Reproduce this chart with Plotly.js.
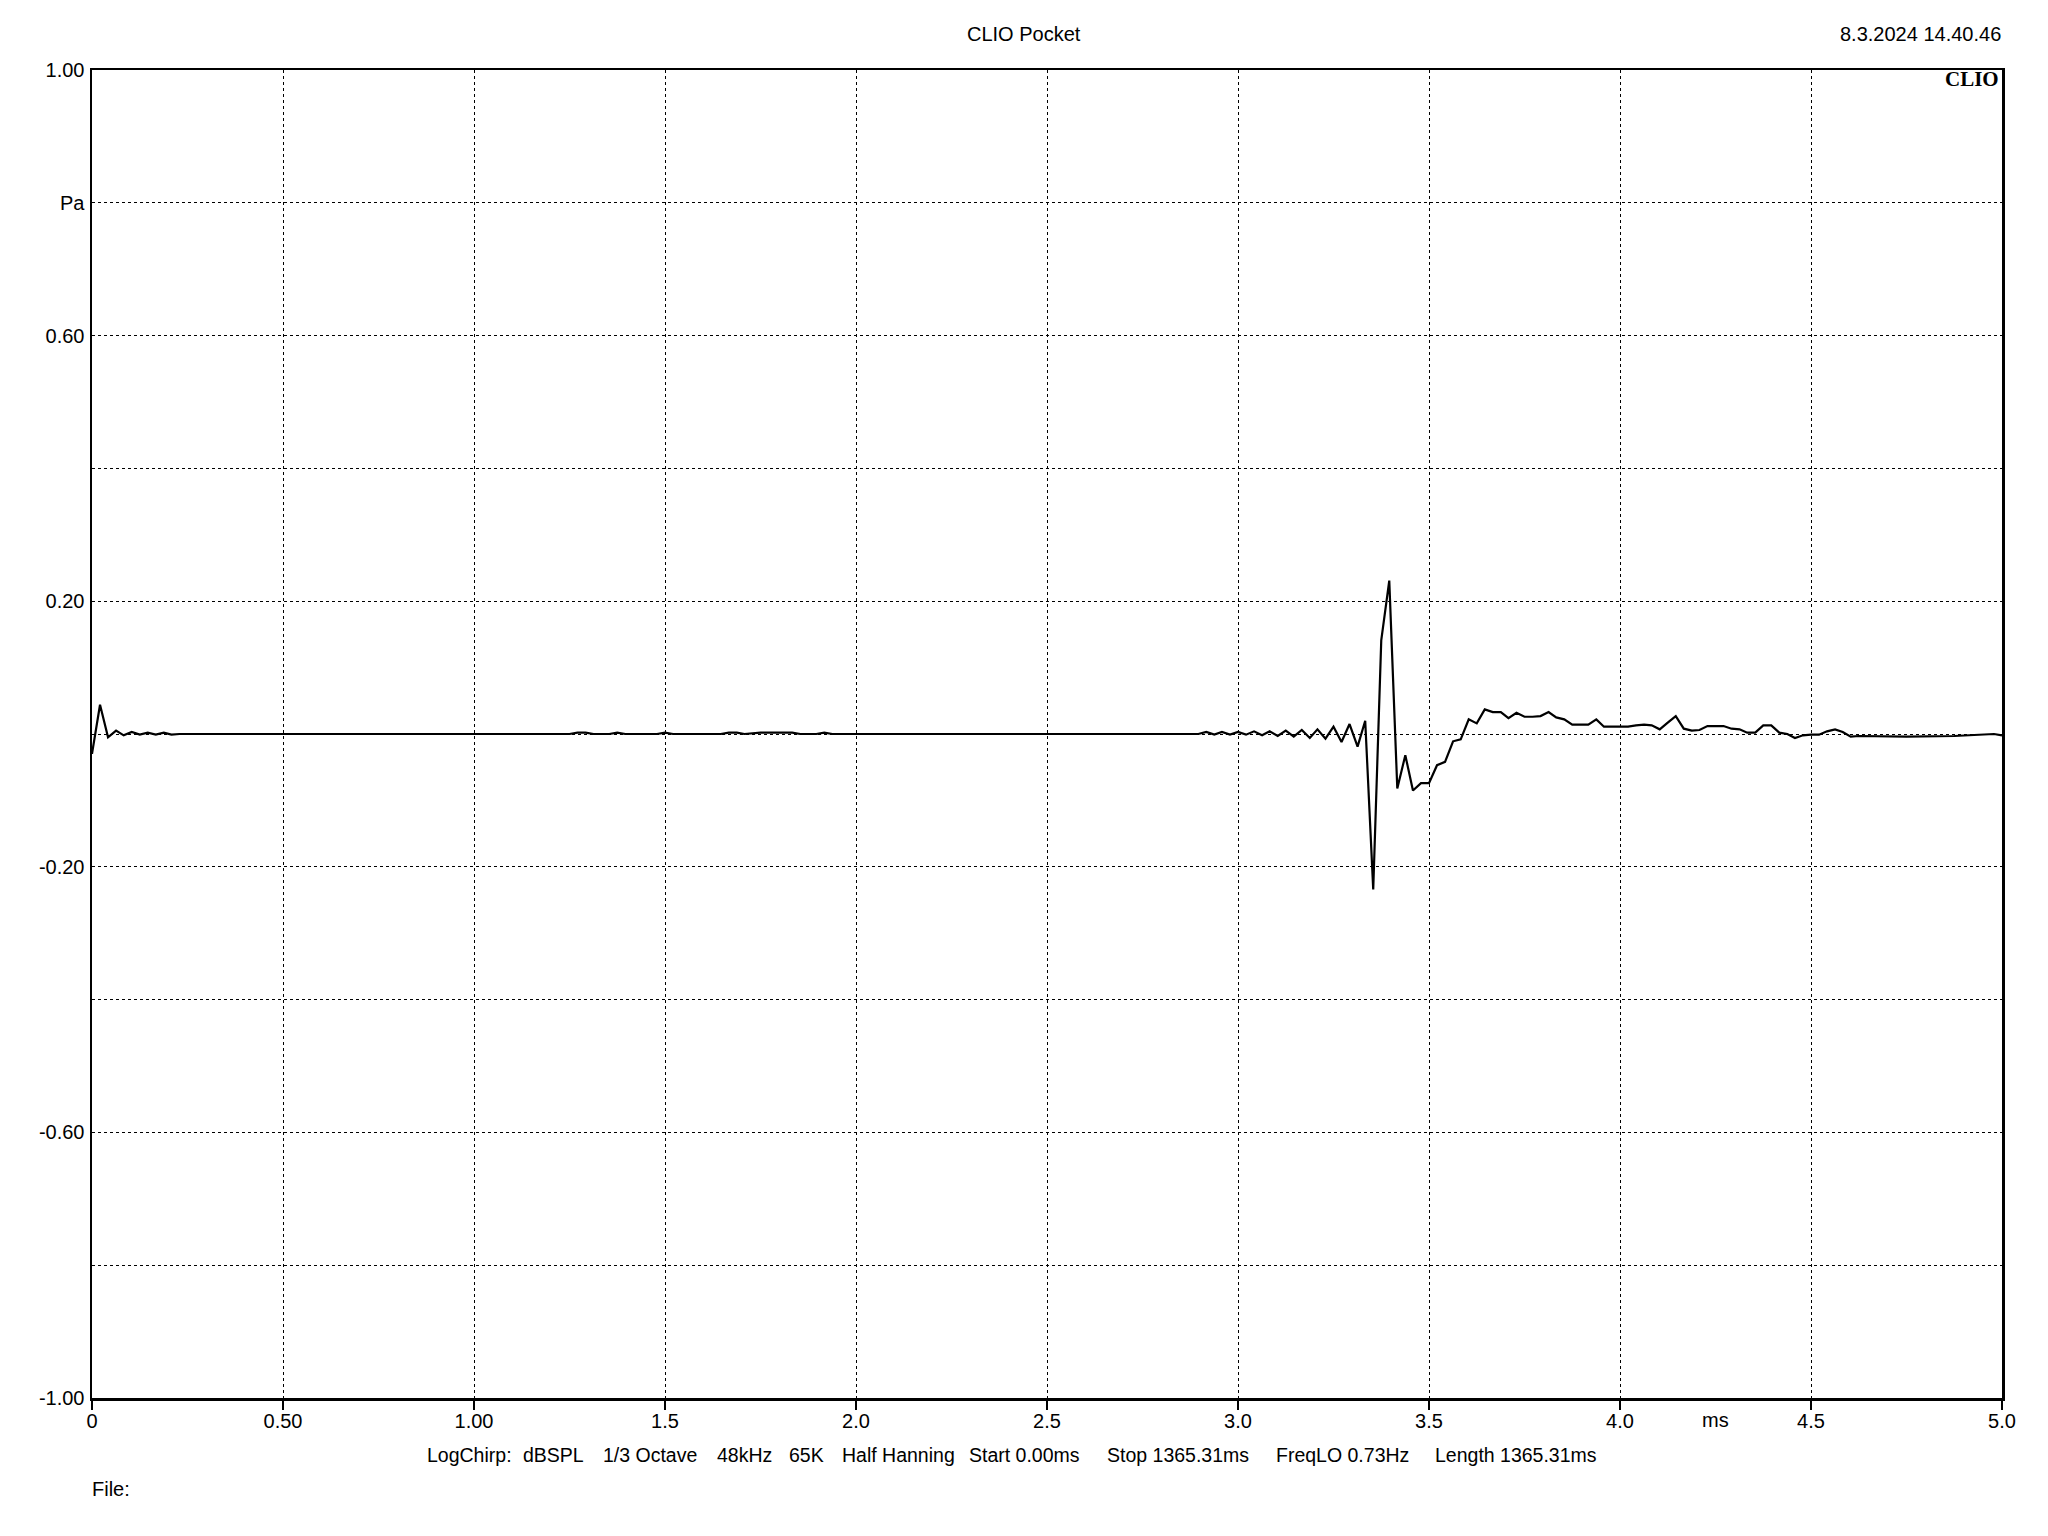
<!DOCTYPE html>
<html>
<head>
<meta charset="utf-8">
<script src="https://cdn.plot.ly/plotly-3.0.1.min.js"></script>
<style>
html,body{margin:0;padding:0;background:#fff;}
#chart{width:2048px;height:1536px;}
</style>
</head>
<body>
<div id="chart"></div>
<script>
// Time (ms) and pressure (Pa)
const timeMs = [
  0, 0.021, 0.042, 0.063, 0.083, 0.104, 0.125, 0.146, 0.167, 0.188, 0.208, 0.229,
  1.250, 1.271, 1.292, 1.313, 1.354, 1.375, 1.396, 1.479, 1.500, 1.521,
  1.646, 1.667, 1.688, 1.708, 1.750, 1.771, 1.792, 1.813, 1.833, 1.854,
  1.896, 1.917, 1.938, 2.896,
  2.917, 2.938, 2.958, 2.979, 3.000, 3.021, 3.042, 3.063, 3.083, 3.104,
  3.125, 3.146, 3.167, 3.188, 3.208, 3.229, 3.250, 3.271, 3.292, 3.313,
  3.333, 3.354, 3.375, 3.396, 3.417, 3.438, 3.458, 3.479, 3.500, 3.521,
  3.542, 3.563, 3.583, 3.604, 3.625, 3.646, 3.667, 3.688, 3.708, 3.729,
  3.750, 3.771, 3.792, 3.813, 3.833, 3.854, 3.875, 3.896, 3.917, 3.938,
  3.958, 3.979, 4.000, 4.021, 4.042, 4.063, 4.083, 4.104, 4.125, 4.146,
  4.167, 4.188, 4.208, 4.229, 4.250, 4.271, 4.292, 4.313, 4.333, 4.354,
  4.375, 4.396, 4.417, 4.438, 4.458, 4.479, 4.500, 4.521, 4.542, 4.563,
  4.583, 4.604, 4.625, 4.750, 4.875, 4.958, 4.979, 5.000
];
const pressurePa = [
  -0.030, 0.044, -0.005, 0.005, -0.002, 0.003, -0.001, 0.002, -0.001, 0.002, -0.001, 0,
  0, 0.002, 0.002, 0, 0, 0.002, 0, 0, 0.002, 0,
  0, 0.002, 0.002, 0, 0.002, 0.002, 0.002, 0.002, 0.002, 0,
  0, 0.002, 0, 0,
  0.003, -0.001, 0.003, -0.001, 0.003, -0.001, 0.004, -0.002, 0.004, -0.003,
  0.005, -0.004, 0.006, -0.006, 0.007, -0.007, 0.011, -0.012, 0.015, -0.019,
  0.020, -0.234, 0.141, 0.231, -0.082, -0.032, -0.085, -0.074, -0.074, -0.047,
  -0.042, -0.011, -0.008, 0.022, 0.016, 0.037, 0.033, 0.033, 0.024, 0.032,
  0.026, 0.026, 0.027, 0.033, 0.025, 0.022, 0.014, 0.014, 0.014, 0.022,
  0.011, 0.011, 0.011, 0.011, 0.013, 0.014, 0.013, 0.007, 0.017, 0.027,
  0.008, 0.005, 0.006, 0.012, 0.012, 0.012, 0.008, 0.007, 0.002, 0.002,
  0.013, 0.013, 0.002, 0.000, -0.006, -0.002, -0.001, -0.001, 0.004, 0.007,
  0.003, -0.004, -0.003, -0.004, -0.003, -0.001, 0.000, -0.002
];

const xTickVals = [0, 0.5, 1, 1.5, 2, 2.5, 3, 3.5, 4, 4.5, 5];
const xTickText = ['0', '0.50', '1.00', '1.5', '2.0', '2.5', '3.0', '3.5', '4.0', '4.5', '5.0'];
const yTickVals = [-1, -0.8, -0.6, -0.4, -0.2, 0, 0.2, 0.4, 0.6, 0.8, 1];
const yTickText = ['-1.00', '', '-0.60', '', '-0.20', '', '0.20', '', '0.60', 'Pa', '1.00'];

const titleText = 'CLIO Pocket';
const dateText = '8.3.2024 14.40.46';
const infoItems = ['LogChirp:', 'dBSPL', '1/3 Octave', '48kHz', '65K', 'Half Hanning',
  'Start 0.00ms', 'Stop 1365.31ms', 'FreqLO 0.73Hz', 'Length 1365.31ms'];
const infoX = [426, 522, 602, 716, 788, 841, 968, 1106, 1275, 1434];

const W = 2048, H = 1536;
const L = 92, R = 2002, T = 70, B = 1398;
const px = x => (x - L) / (R - L);
const py = y => (B - y) / (B - T);
const FONT = 'Liberation Sans, Arial, sans-serif';

const annotations = [
  {text: titleText, x: px(1024), y: py(34), xanchor: 'center', yanchor: 'middle'},
  {text: dateText, x: px(2002), y: py(34), xanchor: 'right', yanchor: 'middle'},
  {text: '<b>CLIO</b>', x: px(2000), y: py(79), xanchor: 'right', yanchor: 'middle',
   font: {family: 'Liberation Serif, Times New Roman, serif', size: 21, color: '#000'}},
  {text: 'ms', x: px(1715), y: py(1420), xanchor: 'center', yanchor: 'middle'},
  {text: 'File:', x: px(91), y: py(1489), xanchor: 'left', yanchor: 'middle'}
];
infoItems.forEach((t, i) => annotations.push({text: t, x: px(infoX[i]), y: py(1455), xanchor: 'left', yanchor: 'middle', font: {family: FONT, size: 19.5, color: '#000'}}));
annotations.forEach(a => {
  a.xref = 'paper'; a.yref = 'paper'; a.showarrow = false;
  if (!a.font) a.font = {family: FONT, size: 20, color: '#000'};
  a.borderpad = 0;
});

const trace = {
  x: timeMs, y: pressurePa, type: 'scatter', mode: 'lines',
  line: {color: '#000', width: 2.2}, hoverinfo: 'skip'
};

const layout = {
  width: W, height: H,
  margin: {l: L, r: W - R, t: T, b: H - B, pad: 0},
  paper_bgcolor: '#fff', plot_bgcolor: '#fff',
  showlegend: false,
  font: {family: FONT, size: 20, color: '#000'},
  xaxis: {
    range: [0, 5], tickmode: 'array', tickvals: xTickVals, ticktext: xTickText,
    showgrid: true, gridcolor: '#000', gridwidth: 1, griddash: '3px,3px',
    zeroline: false, showline: true, mirror: true, linecolor: '#000', linewidth: 2.5,
    ticks: 'outside', ticklen: 9, tickwidth: 1.2, tickcolor: '#000', ticklabelstandoff: -6,
    tickfont: {family: FONT, size: 20, color: '#000'}, fixedrange: true
  },
  yaxis: {
    range: [-1, 1], tickmode: 'array', tickvals: yTickVals, ticktext: yTickText,
    showgrid: true, gridcolor: '#000', gridwidth: 1, griddash: '3px,3px',
    zeroline: false, showline: true, mirror: true, linecolor: '#000', linewidth: 2.5,
    ticks: '', ticklabelstandoff: 1,
    tickfont: {family: FONT, size: 20, color: '#000'}, fixedrange: true
  },
  annotations: annotations
};

Plotly.newPlot('chart', [trace], layout, {displayModeBar: false, staticPlot: true});
</script>
</body>
</html>
